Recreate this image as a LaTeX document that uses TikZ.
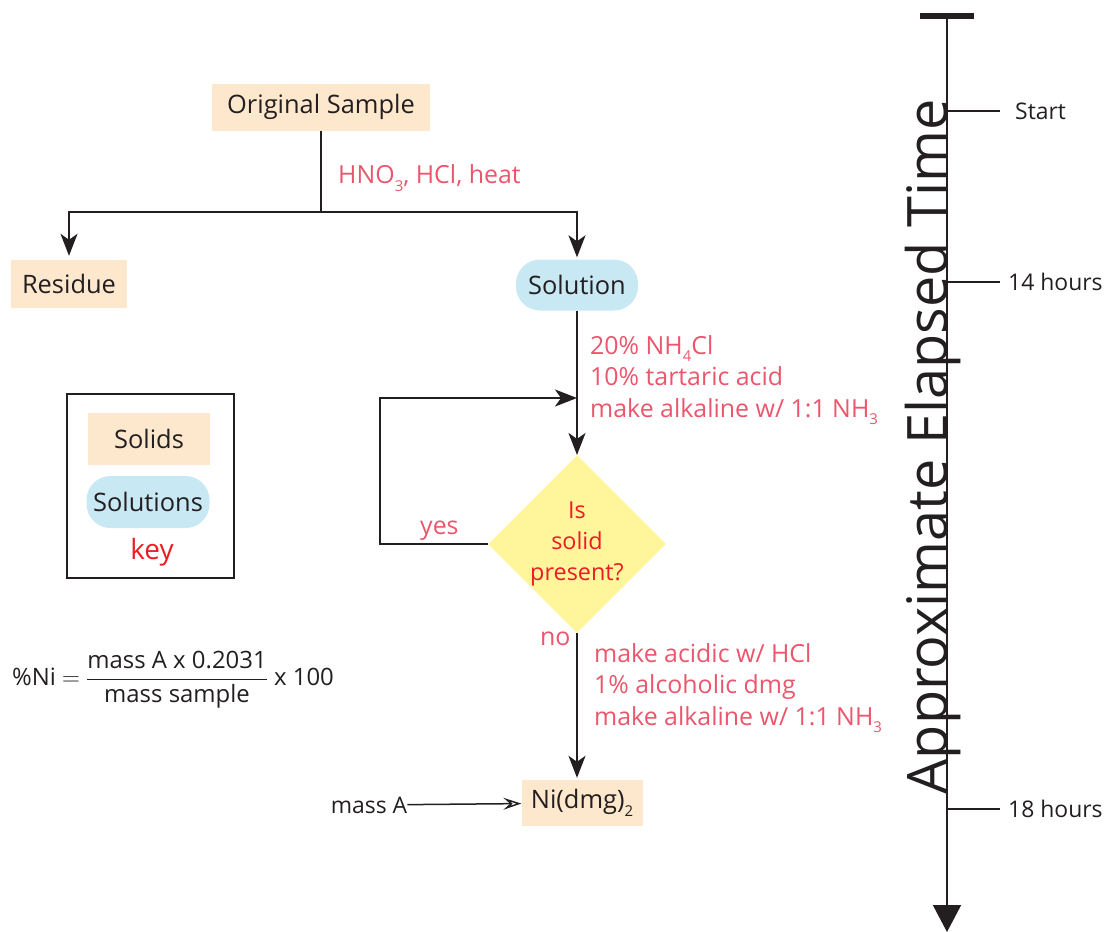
\documentclass[tikz,border=0pt]{standalone}
\usepackage{amsmath}
\usepackage{fontspec}
\setmainfont{Open Sans}
\usetikzlibrary{arrows.meta,shapes.geometric}
\definecolor{solidfill}{RGB}{253,232,205}
\definecolor{solnfill}{RGB}{200,232,244}
\definecolor{testfill}{RGB}{255,245,155}
\definecolor{notered}{RGB}{236,86,108}
\definecolor{keyred}{RGB}{237,28,36}
\definecolor{ink}{RGB}{35,31,32}
\newcommand{\chemsub}[1]{\raisebox{-0.3em}{\fontsize{15}{15}\selectfont #1}}

\begin{document}
\begin{tikzpicture}[x=1bp,y=-1bp,
  boxfont/.style={font=\fontsize{25.5}{30}\selectfont},
  solidbox/.style={fill=solidfill, text=ink, minimum height=47bp, inner sep=0pt, boxfont},
  solnbox/.style={fill=solnfill, text=ink, minimum height=51bp, inner sep=0pt, rounded corners=24bp, boxfont},
  testbox/.style={diamond, fill=testfill, text=keyred, minimum width=167bp, minimum height=168bp,
    inner sep=0pt, align=center, font=\fontsize{23.5}{31}\selectfont},
  note/.style={text=notered, anchor=west, align=left, inner sep=0pt, font=\fontsize{25}{31.5}\selectfont},
  flow/.style={draw=ink, line width=2bp, -{Stealth[length=22bp,width=17bp,inset=6bp]}},
  tick/.style={draw=ink, line width=1.5bp},
  ticklabel/.style={text=ink, anchor=west, inner sep=0pt, font=\fontsize{23}{28}\selectfont}]
 \useasboundingbox (0,0) rectangle (1107,932);
 % flow chart
 \node[solidbox, minimum width=218bp] (orig) at (321,107) {Original Sample};
 \node[solidbox, minimum width=115bp, minimum height=48bp] (resid) at (69,284) {Residue};
 \node[solnbox, minimum width=122bp] (soln) at (577,285) {Solution};
 \node[testbox] (test) at (577,544) {Is\\solid\\present?};
 \node[solidbox, minimum width=121bp, minimum height=46bp] (nidmg) at (582,803) {Ni(dmg)\chemsub{2}};
 \node[text=ink, font=\fontsize{23}{28}\selectfont, inner sep=0pt] (massa) at (369,805) {mass A};
 \coordinate (split) at (321,212);
 \coordinate (loopin) at (577,398);
 \coordinate (back) at (380,544);
 \draw[draw=ink, line width=2bp] (orig) -- (split);
 \draw[flow, shorten >=4bp] (split) -| (resid.north);
 \draw[flow, shorten >=2bp] (split) -| (soln.north);
 \draw[flow] (soln) -- (test);
 \draw[flow] (test.west) -- (back) |- (loopin);
 \draw[flow, shorten >=2bp] (test.south) -- (test.south |- nidmg.north);
 \draw[draw=ink, line width=1.5bp, -{Stealth[open,length=18bp,width=12bp,inset=7bp]}] (massa) -- (nidmg);
 \node[note] (acid) at (338,178) {HNO\chemsub{3}, HCl, heat};
 \node[note] (buffer) at (590,380) {20\% NH\chemsub{4}Cl\\10\% tartaric acid\\make alkaline w/ 1:1 NH\chemsub{3}};
 \node[note] (precip) at (594,688) {make acidic w/ HCl\\1\% alcoholic dmg\\make alkaline w/ 1:1 NH\chemsub{3}};
 \node[note] (yes) at (420,531) {yes};
 \node[note] (no) at (540,639) {no};
 % key
 \draw[draw=ink, line width=2bp] (67,394) rectangle (234,578);
 \node[solidbox, minimum width=122bp, minimum height=52bp] (keysolid) at (149,439) {Solids};
 \node[solnbox, minimum width=123bp, minimum height=52bp] (keysoln) at (148,502) {Solutions};
 \node[text=keyred, font=\fontsize{28}{32}\selectfont, inner sep=0pt] (keyname) at (152,552) {key};
 \node[text=ink, font=\fontsize{24}{28}\selectfont] (calc) at (173,680)
  {\%Ni $=$ $\dfrac{\text{mass A x 0.2031}}{\text{mass sample}}$ x 100};
 % time axis
 \coordinate (ttop) at (947,15);
 \coordinate (tend) at (947,932);
 \draw[draw=ink, line width=2bp, -{Triangle[length=27bp,width=28bp]}] (ttop) -- (tend);
 \draw[draw=ink, line width=6bp] (920,16) -- (974,16);
 \node[rotate=90, anchor=base, text=ink, inner sep=0pt, font=\fontsize{56}{60}\selectfont] (elapsed) at (947,447)
  {Approximate Elapsed Time};
 \foreach \y/\t/\g in {111/Start/15, 282/14 hours/8, 809/18 hours/8}
 {
  \coordinate (t\y) at (947,\y);
  \draw[tick] (t\y) -- ++(53,0) coordinate (e\y);
  \node[ticklabel, xshift=\g bp] (l\y) at (e\y) {\t};
 }
\end{tikzpicture}
\end{document}
